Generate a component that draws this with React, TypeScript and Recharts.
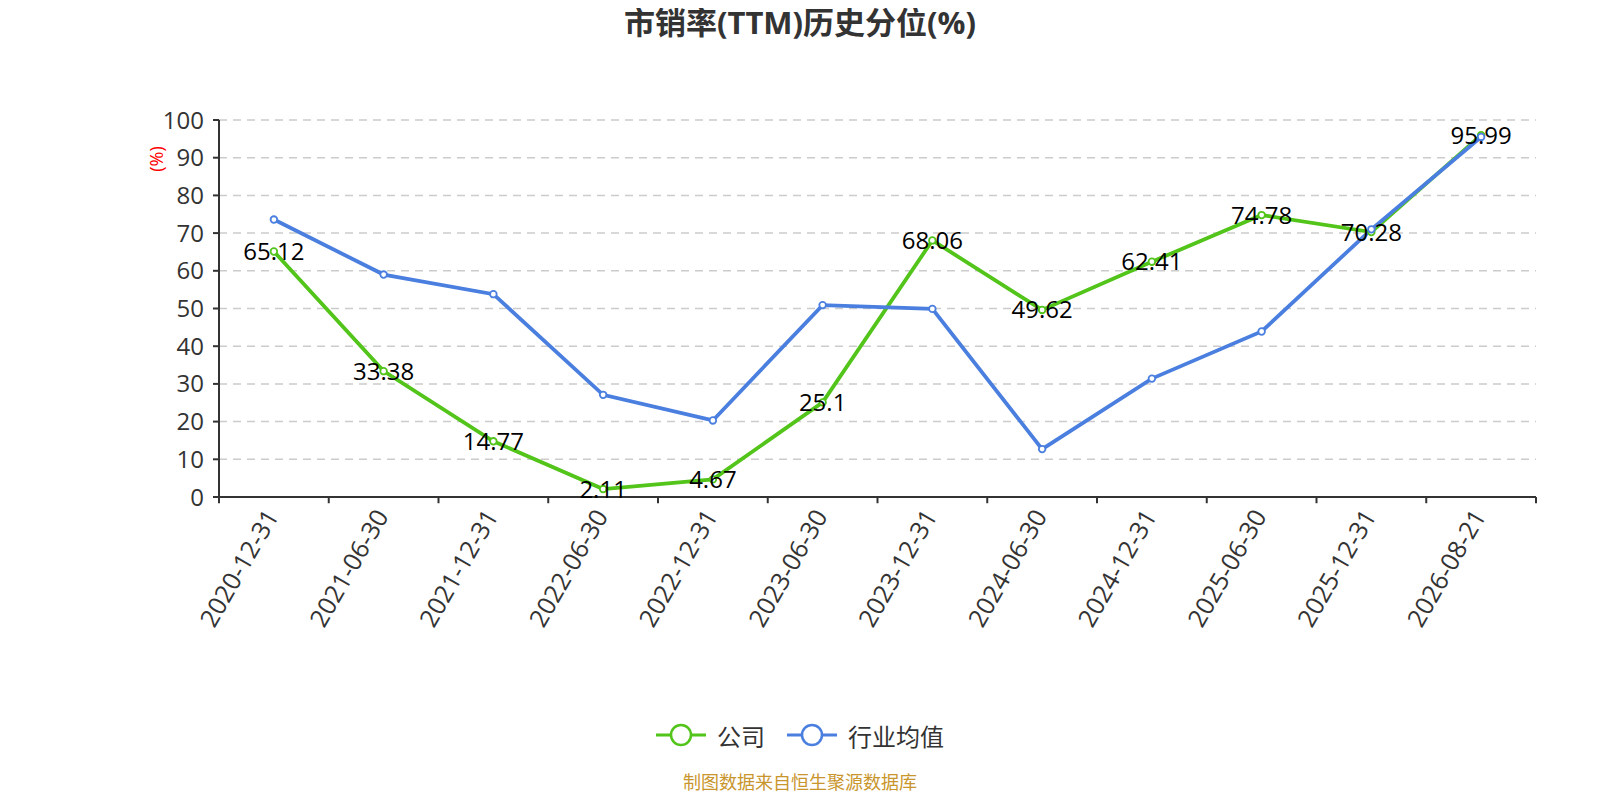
import React from "react";
import {
	LineChart,
	Line,
	XAxis,
	YAxis,
	CartesianGrid,
	ReferenceLine,
	LabelList,
} from "recharts";

const dates = [
	"2020-12-31",
	"2021-06-30",
	"2021-12-31",
	"2022-06-30",
	"2022-12-31",
	"2023-06-30",
	"2023-12-31",
	"2024-06-30",
	"2024-12-31",
	"2025-06-30",
	"2025-12-31",
	"2026-08-21",
];
const companyValues = [65.12, 33.38, 14.77, 2.11, 4.67, 25.1, 68.06, 49.62, 62.41, 74.78, 70.28, 95.99];
const industryValues = [73.6, 59.0, 53.8, 27.1, 20.3, 50.9, 49.9, 12.7, 31.4, 43.9, 71.0, 95.5];
const yTicks = [0, 10, 20, 30, 40, 50, 60, 70, 80, 90, 100];

const GREEN = "#52C41A";
const BLUE = "#4A7FE0";
const FONT = "'Open Sans', 'Noto Sans CJK SC', sans-serif";

const series = [
	{ key: "company", name: "公司", color: GREEN },
	{ key: "industry", name: "行业均值", color: BLUE },
];

const data = dates.map((d, i) => ({
	x: i + 0.5,
	date: d,
	company: companyValues[i],
	industry: industryValues[i],
}));

const labelTicks = dates.map((_, i) => i + 0.5);
const boundaries = Array.from({ length: dates.length + 1 }, (_, i) => i);

const XTick = ({ x, y, payload }: any) => (
	<g transform={`translate(${x - 3},${y})`}>
		<text
			x={0}
			y={0}
			textAnchor="end"
			dominantBaseline="central"
			transform="rotate(-60)"
			fill="#333"
			fontSize={25}
			fontFamily={FONT}
		>
			{dates[Math.floor(payload.value)]}
		</text>
	</g>
);

const ValueLabel = ({ x, y, value }: any) => (
	<text
		x={x}
		y={y - 1}
		textAnchor="middle"
		dominantBaseline="central"
		fill="#000"
		fontSize={24}
		fontFamily={FONT}
	>
		{value}
	</text>
);

const UnitLabel = ({ viewBox }: any) => {
	const cx = viewBox.x + 17;
	const cy = viewBox.y + 39;
	return (
		<text
			x={cx}
			y={cy}
			textAnchor="middle"
			dominantBaseline="central"
			transform={`rotate(-90, ${cx}, ${cy})`}
			fill="#FF0000"
			fontSize={18}
			fontFamily={FONT}
		>
			(%)
		</text>
	);
};

export default function App() {
	return (
		<div style={{ position: "relative", width: 1584, height: 784, fontFamily: FONT }}>
			<div
				style={{
					position: "absolute",
					top: -4,
					left: 0,
					width: 1584,
					height: 36,
					lineHeight: "36px",
					textAlign: "center",
					fontSize: 31,
					fontWeight: "bold",
					color: "#333",
				}}
			>
				市销率(TTM)历史分位(%)
			</div>
			<LineChart
				width={1584}
				height={784}
				data={data}
				margin={{ top: 112, right: 56, left: 131, bottom: 0 }}
			>
				<CartesianGrid
					horizontal
					vertical={false}
					stroke="#ccc"
					strokeDasharray="8 6"
					strokeWidth={1.5}
				/>
				<XAxis
					dataKey="x"
					type="number"
					domain={[0, 12]}
					ticks={labelTicks}
					interval={0}
					tick={<XTick />}
					tickLine={false}
					tickSize={0}
					tickMargin={14}
					axisLine={{ stroke: "#333", strokeWidth: 2 }}
					height={295}
				/>
				<YAxis
					domain={[0, 100]}
					ticks={yTicks}
					interval={0}
					width={80}
					tick={{ fill: "#333", fontSize: 24, fontFamily: FONT }}
					tickLine={{ stroke: "#333", strokeWidth: 2 }}
					tickSize={6}
					tickMargin={9}
					axisLine={{ stroke: "#333", strokeWidth: 2 }}
					label={<UnitLabel />}
				/>
				{boundaries.map((b) => (
					<ReferenceLine
						key={b}
						segment={[
							{ x: b, y: 0 },
							{ x: b, y: -1.65 },
						]}
						stroke="#333"
						strokeWidth={2}
						ifOverflow="visible"
					/>
				))}
				<Line
					type="linear"
					dataKey="company"
					name="公司"
					stroke={GREEN}
					strokeWidth={3.8}
					dot={{ r: 3.3, fill: "#fff", stroke: GREEN, strokeWidth: 1.8 }}
					isAnimationActive={false}
				>
					<LabelList dataKey="company" content={<ValueLabel />} />
				</Line>
				<Line
					type="linear"
					dataKey="industry"
					name="行业均值"
					stroke={BLUE}
					strokeWidth={3.8}
					dot={{ r: 3.3, fill: "#fff", stroke: BLUE, strokeWidth: 1.8 }}
					isAnimationActive={false}
				/>
			</LineChart>
			<div
				style={{
					position: "absolute",
					top: 711,
					left: 0,
					width: 1584,
					height: 32,
					display: "flex",
					justifyContent: "center",
					alignItems: "center",
					gap: 22,
				}}
			>
				{series.map((s) => (
					<div key={s.key} style={{ display: "flex", alignItems: "center", gap: 11 }}>
						<svg width={50} height={26}>
							<line x1={0} y1={13} x2={50} y2={13} stroke={s.color} strokeWidth={3} />
							<circle cx={25} cy={13} r={10} fill="#fff" stroke={s.color} strokeWidth={2.5} />
						</svg>
						<span style={{ fontSize: 24, color: "#333" }}>{s.name}</span>
					</div>
				))}
			</div>
			<div
				style={{
					position: "absolute",
					top: 763,
					left: 0,
					width: 1584,
					height: 22,
					lineHeight: "22px",
					textAlign: "center",
					fontSize: 18,
					color: "#C9962E",
				}}
			>
				制图数据来自恒生聚源数据库
			</div>
		</div>
	);
}
